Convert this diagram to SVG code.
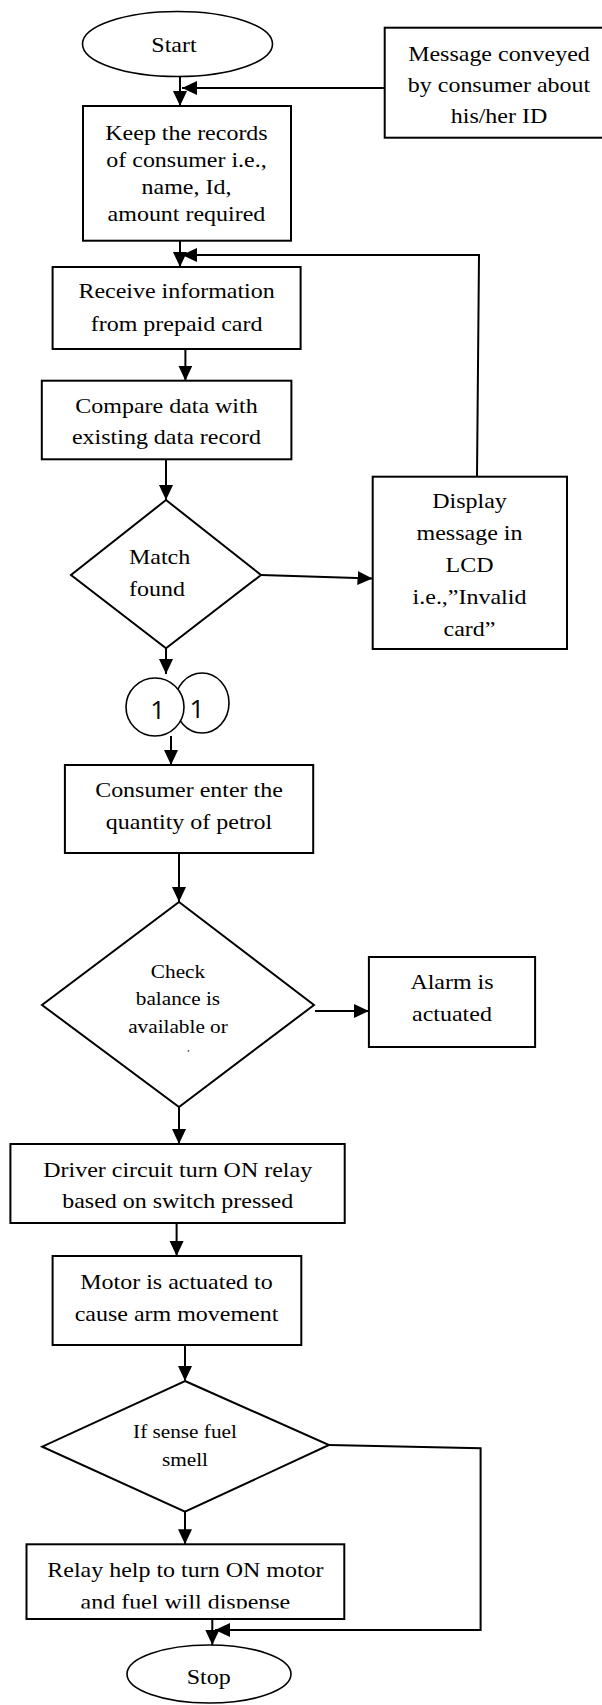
<svg xmlns="http://www.w3.org/2000/svg" width="602" height="1705" viewBox="0 0 602 1705">
<style>
.b{fill:#fff;stroke:#000;stroke-width:2}
.e{fill:#fff;stroke:#000;stroke-width:1.6}
.c{fill:none;stroke:#000;stroke-width:2}
.t{font-family:"Liberation Serif","Times New Roman",serif;font-size:22px;text-anchor:middle;fill:#000}
.s{font-size:19.5px}
.l{text-anchor:start}
.n{font-family:"Open Sans","Liberation Sans",sans-serif;font-size:26px;text-anchor:middle;fill:#000}
</style>
<defs>
<marker id="ah" markerUnits="userSpaceOnUse" markerWidth="16" markerHeight="15" refX="15" refY="7" orient="auto">
<path d="M0,0 L15,7 L0,14 z" fill="#000"/>
</marker>
<clipPath id="clipNot" clipPathUnits="userSpaceOnUse"><rect x="-100" y="1030" width="900" height="21.5"/></clipPath>
<clipPath id="clipRelay" clipPathUnits="userSpaceOnUse"><rect x="-100" y="1580" width="900" height="28.5"/></clipPath>
</defs>
<rect width="602" height="1705" fill="#fff"/>
<g id="connectors">
<path class="c" d="M180,77 L180,106" marker-end="url(#ah)"/>
<path class="c" d="M384.7,88 L182,88" marker-end="url(#ah)"/>
<path class="c" d="M180,241 L180,267" marker-end="url(#ah)"/>
<path class="c" d="M477,476.7 L479,255 L182,255" marker-end="url(#ah)"/>
<path class="c" d="M185.4,349 L185.4,380.7" marker-end="url(#ah)"/>
<path class="c" d="M166,459.3 L166,500" marker-end="url(#ah)"/>
<path class="c" d="M261,575 L372.5,578.5" marker-end="url(#ah)"/>
<path class="c" d="M166,648 L166,674" marker-end="url(#ah)"/>
<path class="c" d="M171,736 L171,765" marker-end="url(#ah)"/>
<path class="c" d="M179,853 L179,902" marker-end="url(#ah)"/>
<path class="c" d="M315,1011 L368.9,1011" marker-end="url(#ah)"/>
<path class="c" d="M179,1107 L179,1144" marker-end="url(#ah)"/>
<path class="c" d="M176.6,1223 L176.6,1256" marker-end="url(#ah)"/>
<path class="c" d="M185,1345 L185,1381" marker-end="url(#ah)"/>
<path class="c" d="M329,1445 L480.6,1448.3 L480.6,1630 L215,1630" marker-end="url(#ah)"/>
<path class="c" d="M185,1512 L185,1544.3" marker-end="url(#ah)"/>
<path class="c" d="M212.3,1619 L212.3,1645" marker-end="url(#ah)"/>
</g>
<g id="start">
<ellipse class="e" cx="177.5" cy="44" rx="95" ry="32.5"/>
<g transform="matrix(1.09 0 0 1 -15.66 0)"><text class="t" x="174" y="52">Start</text></g>
</g>
<g id="message">
<rect class="b" x="384.7" y="27.7" width="230" height="110"/>
<g transform="matrix(1.09 0 0 1 -44.91 0)">
<text class="t" x="499" y="61">Message conveyed</text>
<text class="t" x="499" y="92">by consumer about</text>
<text class="t" x="499" y="123.5">his/her ID</text>
</g>
</g>
<g id="keep">
<rect class="b" x="83" y="106" width="208" height="134.7"/>
<g transform="matrix(1.09 0 0 1 -16.785 0)">
<text class="t" x="186.5" y="140">Keep the records</text>
<text class="t" x="186.5" y="167">of consumer i.e.,</text>
<text class="t" x="186.5" y="194">name, Id,</text>
<text class="t" x="186.5" y="221">amount required</text>
</g>
</g>
<g id="receive">
<rect class="b" x="52.6" y="267" width="248" height="82"/>
<g transform="matrix(1.09 0 0 1 -15.894 0)">
<text class="t" x="176.6" y="298">Receive information</text>
<text class="t" x="176.6" y="331">from prepaid card</text>
</g>
</g>
<g id="compare">
<rect class="b" x="41.8" y="380.7" width="249.6" height="78.6"/>
<g transform="matrix(1.09 0 0 1 -14.985 0)">
<text class="t" x="166.5" y="413.5">Compare data with</text>
<text class="t" x="166.5" y="444.5">existing data record</text>
</g>
</g>
<g id="match">
<polygon class="b" points="166,500 261,575 166,648.3 71,575"/>
<g transform="matrix(1.09 0 0 1 -11.61 0)">
<text class="t l" x="129" y="564">Match</text>
<text class="t l" x="129" y="596">found</text>
</g>
</g>
<g id="display">
<rect class="b" x="372.7" y="476.7" width="194.3" height="172.3"/>
<g transform="matrix(1.09 0 0 1 -42.255 0)">
<text class="t" x="469.5" y="508.5">Display</text>
<text class="t" x="469.5" y="540.5">message in</text>
<text class="t" x="469.5" y="572.5">LCD</text>
<text class="t" x="469.5" y="604.5">i.e.,”Invalid</text>
<text class="t" x="469.5" y="636.5">card”</text>
</g>
</g>
<g id="connector1">
<ellipse class="e" cx="202" cy="703" rx="27" ry="30"/>
<circle class="e" cx="155" cy="707" r="29"/>
<text class="n" x="157.7" y="719">1</text>
<text class="n" x="197" y="718">1</text>
</g>
<g id="consumer">
<rect class="b" x="64.9" y="765" width="248.3" height="88"/>
<g transform="matrix(1.09 0 0 1 -17.01 0)">
<text class="t" x="189" y="797.5">Consumer enter the</text>
<text class="t" x="189" y="829">quantity of petrol</text>
</g>
</g>
<g id="check">
<polygon class="b" points="179,902 314,1005 179,1107 42,1005"/>
<g transform="matrix(1.09 0 0 1 -16.02 0)">
<text class="t s" x="178" y="978.3">Check</text>
<text class="t s" x="178" y="1005">balance is</text>
<text class="t s" x="178" y="1033.3">available or</text>
<text class="t s" x="178" y="1061" clip-path="url(#clipNot)">not</text>
</g>
</g>
<g id="alarm">
<rect class="b" x="368.9" y="957" width="166.2" height="90"/>
<g transform="matrix(1.09 0 0 1 -40.68 0)">
<text class="t" x="452" y="989">Alarm is</text>
<text class="t" x="452" y="1020.7">actuated</text>
</g>
</g>
<g id="driver">
<rect class="b" x="10.4" y="1144" width="334.3" height="79"/>
<g transform="matrix(1.09 0 0 1 -15.993 0)">
<text class="t" x="177.7" y="1177.3">Driver circuit turn ON relay</text>
<text class="t" x="177.7" y="1208.3">based on switch pressed</text>
</g>
</g>
<g id="motor">
<rect class="b" x="52.6" y="1256" width="248.7" height="89"/>
<g transform="matrix(1.09 0 0 1 -15.885 0)">
<text class="t" x="176.5" y="1289.3">Motor is actuated to</text>
<text class="t" x="176.5" y="1320.7">cause arm movement</text>
</g>
</g>
<g id="fuel">
<polygon class="b" points="185,1381 329,1445 185,1511.7 42.2,1446.7"/>
<g transform="matrix(1.09 0 0 1 -16.65 0)">
<text class="t s" x="185" y="1438.3">If sense fuel</text>
<text class="t s" x="185" y="1466">smell</text>
</g>
</g>
<g id="relay">
<rect class="b" x="26.5" y="1544.3" width="317.8" height="74.7"/>
<g transform="matrix(1.09 0 0 1 -16.686 0)">
<text class="t" x="185.4" y="1577.3">Relay help to turn ON motor</text>
<text class="t" x="185.4" y="1609" clip-path="url(#clipRelay)">and fuel will dispense</text>
</g>
</g>
<g id="stop">
<ellipse class="e" cx="209" cy="1674" rx="82" ry="29"/>
<g transform="matrix(1.09 0 0 1 -18.783 0)"><text class="t" x="208.7" y="1684">Stop</text></g>
</g>
</svg>
